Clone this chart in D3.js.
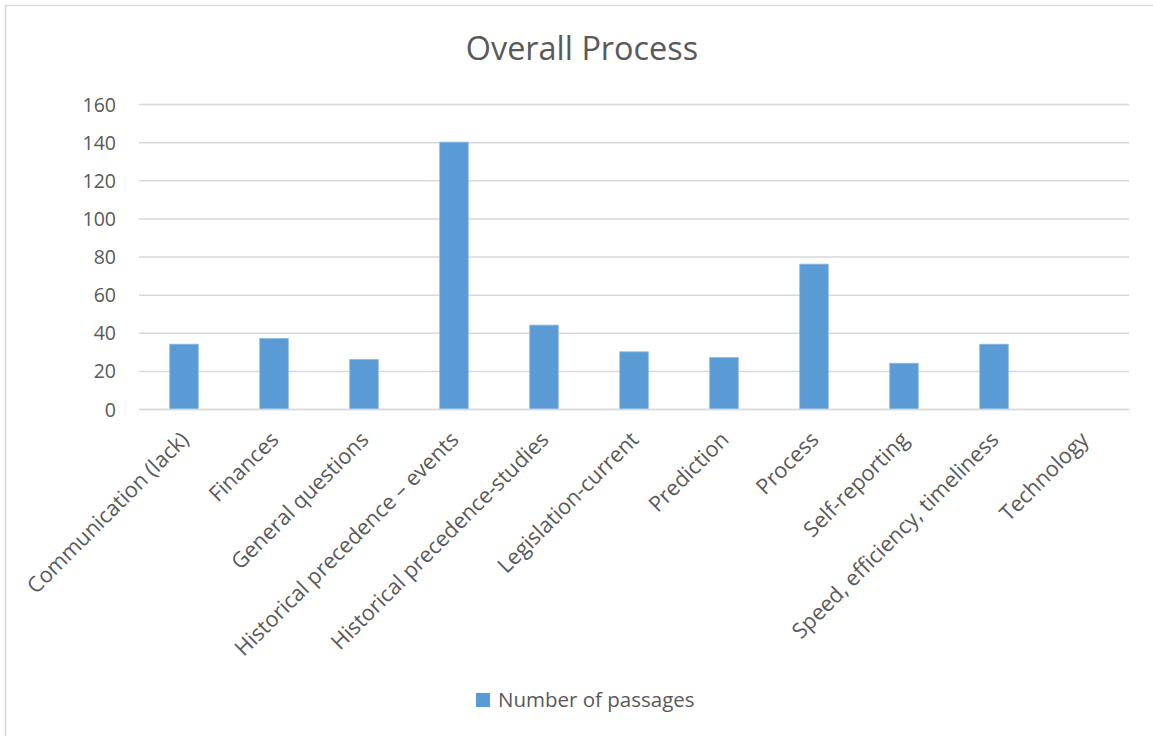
<!DOCTYPE html>
<html>
<head>
<meta charset="utf-8">
<script src="https://cdn.jsdelivr.net/npm/d3@7"></script>
<style>
  html, body { margin: 0; padding: 0; background: #ffffff; }
  svg { display: block; }
  text { font-family: "Open Sans", sans-serif; fill: #595959; }
</style>
</head>
<body>
<svg id="chart" width="1153" height="736"></svg>
<script>
// Passage counts per topic
const categories = [
  "Communication (lack)",
  "Finances",
  "General questions",
  "Historical precedence \u2013 events",
  "Historical precedence-studies",
  "Legislation-current",
  "Prediction",
  "Process",
  "Self-reporting",
  "Speed, efficiency, timeliness",
  "Technology"
];
const passages = [34, 37, 26, 140, 44, 30, 27, 76, 24, 34, 0];
const yTicks = [0, 20, 40, 60, 80, 100, 120, 140, 160];
const chartTitle = "Overall Process";
const seriesName = "Number of passages";

const W = 1153, H = 736;
const plot = { left: 139, right: 1129, top: 104, bottom: 409 };
const barColor = "#5b9bd5";
const gridColor = "#d9d9d9";

const svg = d3.select("#chart");

// outer chart frame (extends past the right and bottom edges)
svg.append("rect")
  .attr("x", 5.5).attr("y", 5.5)
  .attr("width", 1160).attr("height", 740)
  .attr("fill", "#fff")
  .attr("stroke", gridColor)
  .attr("stroke-width", 1.5);

const x = d3.scaleBand()
  .domain(categories)
  .range([plot.left, plot.right])
  .paddingInner(0.683)
  .paddingOuter(0.683 / 2);

const y = d3.scaleLinear()
  .domain([0, 160])
  .range([plot.bottom, plot.top]);

// horizontal gridlines + value labels
const yAxis = d3.axisLeft(y)
  .tickValues(yTicks)
  .tickSize(-(plot.right - plot.left))
  .tickPadding(23);

const gy = svg.append("g")
  .attr("transform", `translate(${plot.left},0)`)
  .call(yAxis);
gy.select(".domain").remove();
gy.selectAll(".tick line")
  .attr("stroke", gridColor)
  .attr("stroke-width", 1.5);
gy.selectAll(".tick text")
  .attr("font-size", 19.5)
  .attr("font-family", "Open Sans, sans-serif")
  .attr("fill", "#595959")
  .attr("dy", "0.36em");

// bars
svg.append("g")
  .selectAll("rect")
  .data(categories.map((c, i) => ({ c, v: passages[i] })))
  .join("rect")
  .attr("x", d => x(d.c))
  .attr("y", d => y(d.v))
  .attr("width", x.bandwidth())
  .attr("height", d => y(0) - y(d.v))
  .attr("fill", barColor)
  .attr("stroke", "#8ab8e4")
  .attr("stroke-width", d => d.v > 0 ? 0.8 : 0);

// category axis with rotated labels
const xAxis = d3.axisBottom(x).tickSize(0);
const gx = svg.append("g")
  .attr("transform", `translate(0,${plot.bottom})`)
  .call(xAxis);
gx.select(".domain")
  .attr("stroke", gridColor)
  .attr("stroke-width", 1.5);
gx.selectAll(".tick text")
  .attr("font-size", 21.6)
  .attr("font-family", "Open Sans, sans-serif")
  .attr("fill", "#595959")
  .attr("text-anchor", "end")
  .attr("x", 0).attr("y", 0).attr("dy", 0)
  .attr("transform", "translate(6,32) rotate(-45)");

// title
svg.append("text")
  .attr("x", 582)
  .attr("y", 60)
  .attr("text-anchor", "middle")
  .attr("font-size", 32.4)
  .text(chartTitle);

// legend
const lg = svg.append("g").attr("transform", "translate(476,693)");
lg.append("rect")
  .attr("width", 14).attr("height", 14)
  .attr("fill", barColor);
lg.append("text")
  .attr("x", 22).attr("y", 14)
  .attr("font-size", 20.5)
  .text(seriesName);
</script>
</body>
</html>
